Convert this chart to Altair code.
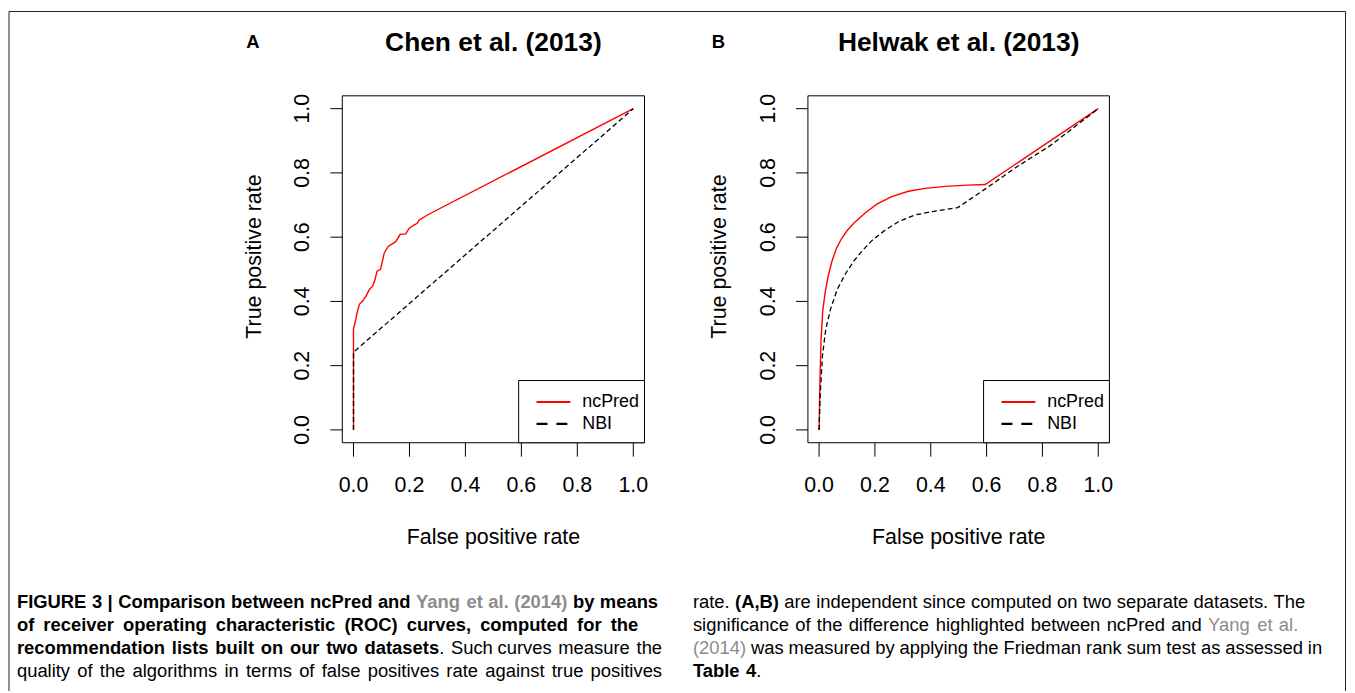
import altair as alt
import pandas as pd

W, H = 1347, 685
FONT = "Liberation Sans, Arial, sans-serif"

# ---------------- data ----------------
tick_values = [0.0, 0.2, 0.4, 0.6, 0.8, 1.0]
tick_labels = ["0.0", "0.2", "0.4", "0.6", "0.8", "1.0"]

# Panel A: Chen et al. (2013)
chen_ncpred_fpr = [0.0, 0.0, 0.0, 0.006, 0.013, 0.021, 0.033, 0.045, 0.057, 0.069, 0.077,
                   0.084, 0.096, 0.102, 0.110, 0.124, 0.151, 0.167, 0.187, 0.199, 0.217,
                   0.228, 0.234, 0.264, 1.0]
chen_ncpred_tpr = [0.0, 0.24, 0.314, 0.335, 0.365, 0.391, 0.401, 0.417, 0.437, 0.448, 0.468,
                   0.494, 0.499, 0.520, 0.551, 0.571, 0.586, 0.609, 0.610, 0.628, 0.638,
                   0.643, 0.653, 0.669, 1.0]
chen_nbi_fpr = [0.0, 0.0, 1.0]
chen_nbi_tpr = [0.0, 0.242, 1.0]

# Panel B: Helwak et al. (2013)
helwak_ncpred_fpr = [0.0, 0.003, 0.007, 0.013, 0.022, 0.033, 0.046, 0.062, 0.080, 0.100,
                     0.124, 0.166, 0.207, 0.260, 0.320, 0.380, 0.450, 0.533, 0.595, 1.0]
helwak_ncpred_tpr = [0.0, 0.150, 0.280, 0.370, 0.430, 0.480, 0.525, 0.565, 0.595, 0.620,
                     0.643, 0.676, 0.703, 0.726, 0.743, 0.752, 0.758, 0.762, 0.764, 1.0]
helwak_nbi_fpr = [0.0, 0.004, 0.012, 0.024, 0.041, 0.065, 0.095, 0.125, 0.155, 0.190,
                  0.237, 0.284, 0.343, 0.402, 0.497, 0.544, 0.592, 0.710, 0.828, 1.0]
helwak_nbi_tpr = [0.0, 0.108, 0.231, 0.314, 0.376, 0.437, 0.487, 0.526, 0.558, 0.590,
                  0.622, 0.648, 0.669, 0.679, 0.692, 0.720, 0.748, 0.820, 0.885, 1.0]

panel_titles = ["Chen et al. (2013)", "Helwak et al. (2013)"]
panel_letters = ["A", "B"]
x_title = "False positive rate"
y_title = "True positive rate"
legend_labels = ["ncPred", "NBI"]

caption_left = [
    [("FIGURE 3 | Comparison between ncPred and ", "bold", "black"),
     ("Yang et al. (2014)", "bold", "gray"),
     (" by means", "bold", "black")],
    [("of receiver operating characteristic (ROC) curves, computed for the", "bold", "black")],
    [("recommendation lists built on our two datasets", "bold", "black"),
     (". Such curves measure the", "normal", "black")],
    [("quality of the algorithms in terms of false positives rate against true positives", "normal", "black")],
]
caption_right = [
    [("rate. ", "normal", "black"), ("(A,B)", "bold", "black"),
     (" are independent since computed on two separate datasets. The", "normal", "black")],
    [("significance of the difference highlighted between ncPred and ", "normal", "black"),
     ("Yang et al.", "normal", "gray")],
    [("(2014)", "normal", "gray"),
     (" was measured by applying the Friedman rank sum test as assessed in", "normal", "black")],
    [("Table 4", "bold", "black"), (".", "normal", "black")],
]

# ---------------- helpers ----------------
RED = "#ff0000"
GRAY = "#8c8c8c"

REG_W = {" ": 278, "(": 333, ")": 333, ",": 278, ".": 278, "|": 260,
         "A": 667, "B": 667, "C": 722, "F": 611, "P": 667, "T": 611, "Y": 667,
         "a": 556, "b": 556, "c": 500, "d": 556, "e": 556, "f": 278, "g": 556, "h": 556,
         "i": 222, "k": 500, "l": 222, "m": 833, "n": 556, "o": 556, "p": 556, "q": 556,
         "r": 333, "s": 500, "t": 278, "u": 556, "v": 500, "w": 722, "x": 500, "y": 500}
BOLD_W = {" ": 278, "(": 333, ")": 333, ",": 278, ".": 278, "|": 280,
          "A": 722, "B": 722, "C": 722, "E": 667, "F": 611, "G": 778, "I": 278, "O": 778,
          "P": 667, "R": 722, "T": 611, "U": 722, "Y": 667,
          "a": 556, "b": 611, "c": 556, "d": 611, "e": 556, "f": 333, "g": 611, "h": 611,
          "i": 278, "k": 556, "l": 278, "m": 889, "n": 611, "o": 611, "p": 611, "q": 611,
          "r": 389, "s": 556, "t": 333, "u": 611, "v": 556, "w": 778, "y": 556}


def text_width(s, bold, size):
    table = BOLD_W if bold else REG_W
    return sum(table.get(ch, 556) for ch in s) * size / 1000.0


one = pd.DataFrame({"k": [0]})


def txt(text, x, y, size, bold=False, angle=0, align="center", baseline="alphabetic", color="black"):
    kw = dict(font=FONT, fontSize=size, align=align, baseline=baseline, color=color)
    if bold:
        kw["fontWeight"] = "bold"
    if angle:
        kw["angle"] = angle
    return alt.Chart(pd.DataFrame({"t": [text]})).mark_text(**kw).encode(
        x=alt.value(x), y=alt.value(y), text="t:N")


BY0, BY1 = 86.3, 435.3


def panel(bx0, bx1, title, letter, nc_x, nc_y, nbi_x, nbi_y):
    xs = alt.Scale(domain=[-0.04, 1.04], range=[bx0, bx1], nice=False, zero=False)
    ys = alt.Scale(domain=[-0.04, 1.04], range=[BY1, BY0], nice=False, zero=False)
    cx = (bx0 + bx1) / 2.0
    ticks = pd.DataFrame({"v": tick_values, "lab": tick_labels})
    layers = []
    # plot box
    layers.append(alt.Chart(one).mark_rect(fill="white", stroke="black", strokeWidth=1).encode(
        x=alt.value(bx0), x2=alt.value(bx1), y=alt.value(BY0), y2=alt.value(BY1)))
    # curves
    nc = pd.DataFrame({"fpr": nc_x, "tpr": nc_y, "i": list(range(len(nc_x)))})
    nb = pd.DataFrame({"fpr": nbi_x, "tpr": nbi_y, "i": list(range(len(nbi_x)))})
    layers.append(alt.Chart(nc).mark_line(color=RED, strokeWidth=1.4).encode(
        x=alt.X("fpr:Q", scale=xs, axis=None), y=alt.Y("tpr:Q", scale=ys, axis=None),
        order="i:Q"))
    layers.append(alt.Chart(nb).mark_line(color="black", strokeWidth=1.3, strokeDash=[5, 3]).encode(
        x=alt.X("fpr:Q", scale=xs, axis=None), y=alt.Y("tpr:Q", scale=ys, axis=None),
        order="i:Q"))
    # x ticks + labels
    layers.append(alt.Chart(ticks).mark_rule(color="black", strokeWidth=1).encode(
        x=alt.X("v:Q", scale=xs, axis=None), y=alt.value(BY1), y2=alt.value(BY1 + 14)))
    layers.append(alt.Chart(ticks).mark_text(font=FONT, fontSize=21.5, align="center",
                                             baseline="alphabetic", color="black").encode(
        x=alt.X("v:Q", scale=xs, axis=None), y=alt.value(BY1 + 50), text="lab:N"))
    # y ticks + labels
    layers.append(alt.Chart(ticks).mark_rule(color="black", strokeWidth=1).encode(
        y=alt.Y("v:Q", scale=ys, axis=None), x=alt.value(bx0 - 12), x2=alt.value(bx0)))
    layers.append(alt.Chart(ticks).mark_text(font=FONT, fontSize=21.5, align="center",
                                             baseline="alphabetic", angle=270,
                                             color="black").encode(
        y=alt.Y("v:Q", scale=ys, axis=None), x=alt.value(bx0 - 33), text="lab:N"))
    # titles
    layers.append(txt(title, cx, 41.5, 26.5, bold=True))
    layers.append(txt(letter, bx0 - 90, 38.5, 18.5, bold=True))
    layers.append(txt(x_title, cx, 537, 21.5))
    layers.append(txt(y_title, bx0 - 82, (BY0 + BY1) / 2 - 12.8, 21.5, angle=270))
    # legend
    lx0 = bx1 - 126.6
    layers.append(alt.Chart(one).mark_rect(fill="white", stroke="black", strokeWidth=1).encode(
        x=alt.value(lx0), x2=alt.value(bx1), y=alt.value(372.7), y2=alt.value(BY1)))
    layers.append(alt.Chart(one).mark_rule(color=RED, strokeWidth=2.2).encode(
        x=alt.value(lx0 + 18), x2=alt.value(lx0 + 52), y=alt.value(394.3)))
    layers.append(alt.Chart(one).mark_rule(color="black", strokeWidth=2.2, strokeDash=[11, 9]).encode(
        x=alt.value(lx0 + 18), x2=alt.value(lx0 + 52), y=alt.value(416.3)))
    layers.append(txt(legend_labels[0], lx0 + 64, 394.3, 18, align="left", baseline="middle"))
    layers.append(txt(legend_labels[1], lx0 + 64, 416.3, 18, align="left", baseline="middle"))
    return layers


layers = []
layers += panel(336.3, 640.3, panel_titles[0], panel_letters[0],
                chen_ncpred_fpr, chen_ncpred_tpr, chen_nbi_fpr, chen_nbi_tpr)
layers += panel(804.7, 1108.0, panel_titles[1], panel_letters[1],
                helwak_ncpred_fpr, helwak_ncpred_tpr, helwak_nbi_fpr, helwak_nbi_tpr)

# frame (top, left, right)
layers.append(alt.Chart(one).mark_rule(color="#222222", strokeWidth=1).encode(
    x=alt.value(1), x2=alt.value(1345.5), y=alt.value(1.5)))
layers.append(alt.Chart(one).mark_rule(color="#222222", strokeWidth=1).encode(
    x=alt.value(1), y=alt.value(1.5), y2=alt.value(H)))
layers.append(alt.Chart(one).mark_rule(color="#222222", strokeWidth=1).encode(
    x=alt.value(1345.5), y=alt.value(1.5), y2=alt.value(H)))

# caption (word-positioned, lines stretched to the reference line ends)
CAP_FS = 18.5
baselines = [601.5, 624.5, 647.5, 670.5]
left_ends = [654, 634, 658, 658]
right_ends = [1305, 1298, 1322, None]


def seg_rows(lines, x0, ends):
    rows = []
    for line, yb, end in zip(lines, baselines, ends):
        # tokenize into words, remembering how many spaces precede each
        words = []
        x = x0
        nsp = 0
        for text, weight, color in line:
            bold = weight == "bold"
            col = GRAY if color == "gray" else "black"
            buf = ""
            for ch in text:
                if ch == " ":
                    if buf:
                        words.append([buf, x - text_width(buf, bold, CAP_FS), nsp, weight, col])
                        buf = ""
                    nsp += 1
                    x += text_width(" ", bold, CAP_FS)
                else:
                    buf += ch
                    x += text_width(ch, bold, CAP_FS)
            if buf:
                words.append([buf, x - text_width(buf, bold, CAP_FS), nsp, weight, col])
        extra = 0.0
        if end is not None and nsp > 0:
            extra = (end - x) / nsp
        for w, wx, k, weight, col in words:
            rows.append(dict(text=w, x=wx + extra * k, y=yb, weight=weight, color=col))
    return rows


cap = pd.DataFrame(seg_rows(caption_left, 9, left_ends) + seg_rows(caption_right, 689, right_ends))
for w in ["bold", "normal"]:
    sub = cap[cap["weight"] == w]
    kw = dict(font=FONT, fontSize=CAP_FS, align="left", baseline="alphabetic")
    if w == "bold":
        kw["fontWeight"] = "bold"
    layers.append(alt.Chart(sub).mark_text(**kw).encode(
        x=alt.X("x:Q", scale=None, axis=None), y=alt.Y("y:Q", scale=None, axis=None),
        text="text:N", color=alt.Color("color:N", scale=None)))

chart = alt.layer(*layers).resolve_scale(x="independent", y="independent").properties(
    width=W, height=H, padding=0, autosize=alt.AutoSizeParams(type="none"),
    background="white",
).configure_view(strokeWidth=0)

chart.save("out.html", embed_options={"renderer": "svg", "actions": False})
